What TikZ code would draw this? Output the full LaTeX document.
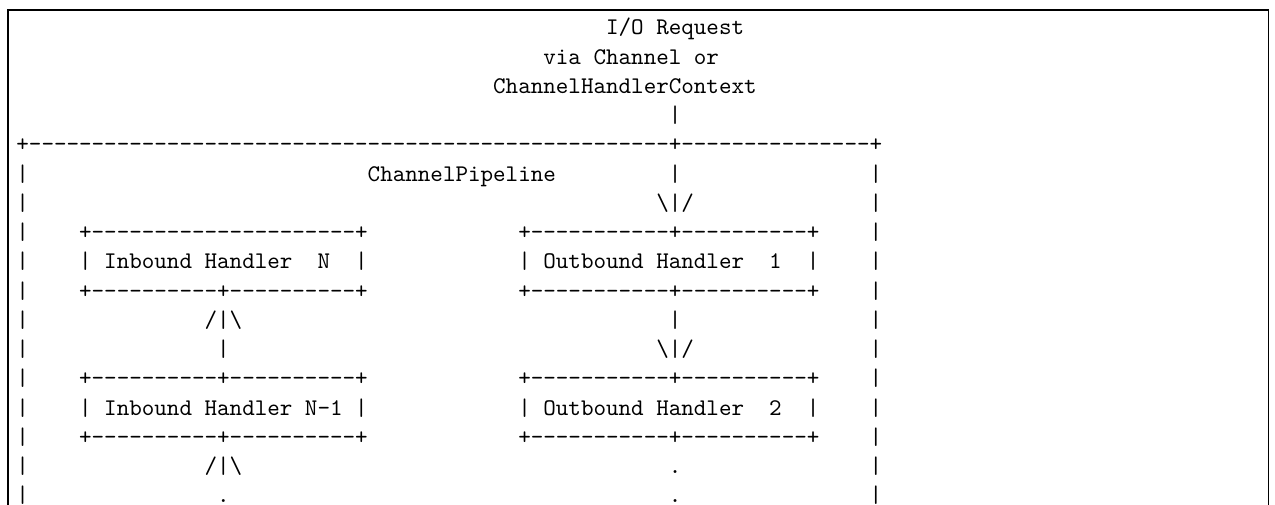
\documentclass[tikz,border=0pt]{standalone}
\usepackage{tikz}
\ExplSyntaxOn
\cs_new:Npn \adash #1 { \prg_replicate:nn {#1} { -\kern0pt } }
\ExplSyntaxOff
\newcommand\asp[1]{\hspace*{\dimexpr 5.25pt*#1\relax}}
\newcommand\bsl{\textbackslash}
\tikzset{
  asciitext/.style={anchor=base west, inner sep=0pt, outer sep=0pt, font=\ttfamily},
  frameline/.style={line width=0.7pt, black}
}
\newcommand\placeline[3]{\node[asciitext] (#1) at (6.87pt, {-14.6pt-(#2-1)*12.24pt}) {#3};}
\begin{document}
\begin{tikzpicture}
\useasboundingbox (0,0) rectangle (533.5pt,-210.9pt);
% outer frame of the code block (bottom edge cut off)
\coordinate (fbl) at (3.47pt,-212pt);
\coordinate (ftl) at (3.47pt,-4.18pt);
\coordinate (ftr) at (530.8pt,-4.18pt);
\coordinate (fbr) at (530.8pt,-212pt);
\draw[frameline] (fbl) -- (ftl) -- (ftr) -- (fbr);
% ASCII diagram lines
\placeline{l1}{1}{\asp{47}I/O Request}
\placeline{l2}{2}{\asp{42}via Channel or}
\placeline{l3}{3}{\asp{38}ChannelHandlerContext}
\placeline{l4}{4}{\asp{52}|}
\placeline{l5}{5}{+\adash{51}+\adash{15}+}
\placeline{l6}{6}{|\asp{27}ChannelPipeline\asp{9}|\asp{15}|}
\placeline{l7}{7}{|\asp{50}\bsl|/\asp{14}|}
\placeline{l8}{8}{|\asp{4}+\adash{21}+\asp{12}+\adash{11}+\adash{10}+\asp{4}|}
\placeline{l9}{9}{|\asp{4}| Inbound Handler\asp{2}N\asp{2}|\asp{12}| Outbound Handler\asp{2}1\asp{2}|\asp{4}|}
\placeline{l10}{10}{|\asp{4}+\adash{10}+\adash{10}+\asp{12}+\adash{11}+\adash{10}+\asp{4}|}
\placeline{l11}{11}{|\asp{14}/|\bsl\asp{34}|\asp{15}|}
\placeline{l12}{12}{|\asp{15}|\asp{34}\bsl|/\asp{14}|}
\placeline{l13}{13}{|\asp{4}+\adash{10}+\adash{10}+\asp{12}+\adash{11}+\adash{10}+\asp{4}|}
\placeline{l14}{14}{|\asp{4}| Inbound Handler N-1 |\asp{12}| Outbound Handler\asp{2}2\asp{2}|\asp{4}|}
\placeline{l15}{15}{|\asp{4}+\adash{10}+\adash{10}+\asp{12}+\adash{11}+\adash{10}+\asp{4}|}
\placeline{l16}{16}{|\asp{14}/|\bsl\asp{34}.\asp{15}|}
\placeline{l17}{17}{|\asp{15}.\asp{35}.\asp{15}|}
\end{tikzpicture}
\end{document}
